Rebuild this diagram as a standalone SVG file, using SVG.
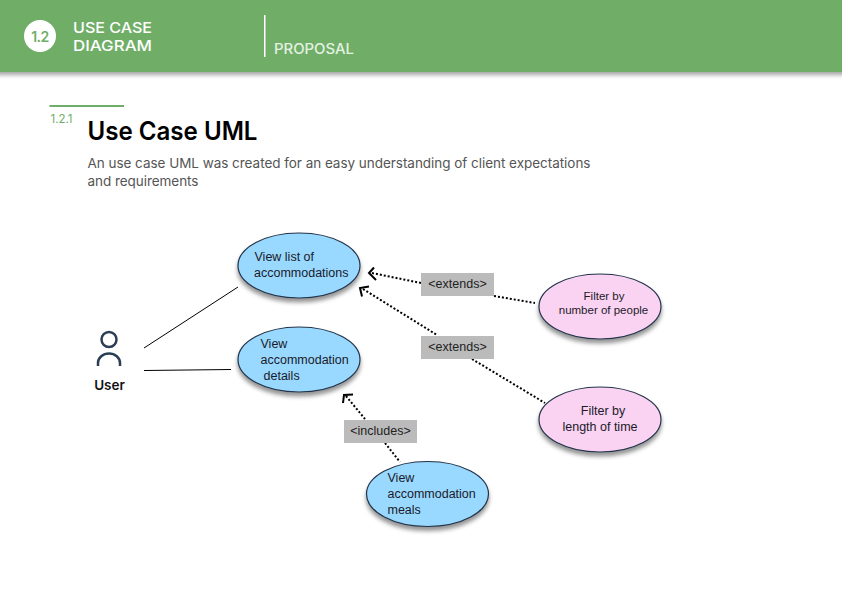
<svg xmlns="http://www.w3.org/2000/svg" width="842" height="596" viewBox="0 0 842 596">
<style>
.h{font-family:"Inter","Liberation Sans",sans-serif}
.d{font-family:"Liberation Sans",sans-serif;font-size:12.500px;fill:#1a1a2a}
.l{font-family:"Liberation Sans",sans-serif;font-size:12.500px;fill:#222}
.e{stroke:#23344a;stroke-width:1.2}
.blue{fill:#99d9ff}
.pink{fill:#fbd3f2}
.lab{fill:#bbbbbb}
.dot{fill:none;stroke:#000;stroke-width:2;stroke-dasharray:2 2}
.sol{fill:none;stroke:#000;stroke-width:1}
.head{fill:none;stroke:#000;stroke-width:2}
</style>
<defs>
<filter id="s" x="-20%" y="-20%" width="140%" height="150%"><feDropShadow dx="0" dy="4" stdDeviation="2" flood-color="#000" flood-opacity="0.42"/></filter>
<filter id="hs" x="-5%" y="-20%" width="110%" height="150%"><feDropShadow dx="0" dy="3" stdDeviation="2" flood-color="#000" flood-opacity="0.35"/></filter>
</defs>
<rect width="842" height="596" fill="#fff"/>
<g id="header">
<rect x="-6" y="-6" width="854" height="78" fill="#6fae68" filter="url(#hs)"/>
<circle cx="40" cy="36" r="16" fill="#fff"/>
<text x="40" y="41.500" text-anchor="middle" class="h" font-size="14" font-weight="600" fill="#6fae68" letter-spacing="-0.5">1.2</text>
<text class="h" font-size="14.800" font-weight="500" fill="#fff"><tspan x="73" y="33" textLength="79" lengthAdjust="spacingAndGlyphs">USE CASE</tspan><tspan x="73" y="51" textLength="79" lengthAdjust="spacingAndGlyphs">DIAGRAM</tspan></text>
<rect x="264" y="15" width="1.500" height="42" fill="#fff"/>
<text x="274" y="54" class="h" font-size="14" font-weight="500" fill="#e4f1e2" textLength="80" lengthAdjust="spacingAndGlyphs">PROPOSAL</text>
</g>
<g id="title">
<rect x="49.500" y="105" width="74.500" height="2" fill="#6fae68"/>
<text x="50.500" y="123" class="h" font-size="11.500" fill="#6fae68" textLength="22" lengthAdjust="spacingAndGlyphs">1.2.1</text>
<text x="87.500" y="139.500" class="h" font-size="25" font-weight="600" fill="#000" textLength="170" lengthAdjust="spacingAndGlyphs">Use Case UML</text>
<text class="h" font-size="13.500" fill="#555"><tspan x="87.500" y="168" textLength="503">An use case UML was created for an easy understanding of client expectations</tspan><tspan x="87.500" y="186" textLength="111">and requirements</tspan></text>
</g>
<g id="connectors">
<path class="sol" d="M144 348 L238 287"/>
<path class="sol" d="M144 370.500 L231 369.500"/>
<path class="dot" d="M372 273 L421 283"/>
<path class="dot" d="M494 296 L535 303"/>
<path class="head" d="M374 267.500 L369 273 L376 280"/>
<path class="dot" d="M363 289 L437 335"/>
<path class="dot" d="M472 359 L545 403"/>
<path class="head" d="M369 286.500 L360 288 L362 296.500"/>
<path class="dot" d="M346 396 L365 419"/>
<path class="dot" d="M385 443 L400 462"/>
<path class="head" d="M353 394.500 L344 395 L343 403"/>
</g>
<g id="uc-list">
<ellipse class="e blue" cx="299" cy="265.500" rx="61" ry="32.500" filter="url(#s)"/>
<text class="d"><tspan x="254.500" y="261">View list of</tspan><tspan x="254" y="277">accommodations</tspan></text>
</g>
<g id="uc-details">
<ellipse class="e blue" cx="299" cy="359.500" rx="61" ry="32.500" filter="url(#s)"/>
<text class="d"><tspan x="260.500" y="348">View</tspan><tspan x="260.500" y="364">accommodation</tspan><tspan x="263.500" y="380">details</tspan></text>
</g>
<g id="uc-meals">
<ellipse class="e blue" cx="427.500" cy="494" rx="61" ry="32.500" filter="url(#s)"/>
<text class="d"><tspan x="387.500" y="482">View</tspan><tspan x="387.500" y="498">accommodation</tspan><tspan x="387.500" y="514">meals</tspan></text>
</g>
<g id="uc-filter-people">
<ellipse class="e pink" cx="600" cy="306.500" rx="61" ry="32.500" filter="url(#s)"/>
<text class="d" text-anchor="middle"><tspan x="604" y="300" style="font-size:11.500px">Filter by</tspan><tspan x="603.500" y="314" style="font-size:11.500px">number of people</tspan></text>
</g>
<g id="uc-filter-time">
<ellipse class="e pink" cx="600" cy="419.500" rx="61" ry="32.500" filter="url(#s)"/>
<text class="d" text-anchor="middle"><tspan x="603" y="415">Filter by</tspan><tspan x="600" y="431">length of time</tspan></text>
</g>
<g id="label-extends-1"><rect class="lab" x="421" y="273" width="73" height="23"/><text x="457.500" y="288" text-anchor="middle" class="l">&lt;extends&gt;</text></g>
<g id="label-extends-2"><rect class="lab" x="421" y="336" width="73" height="23"/><text x="457.500" y="351" text-anchor="middle" class="l">&lt;extends&gt;</text></g>
<g id="label-includes"><rect class="lab" x="344" y="420" width="73" height="23"/><text x="380.500" y="435" text-anchor="middle" class="l">&lt;includes&gt;</text></g>
<g id="actor-user">
<circle cx="109" cy="339.500" r="7.500" fill="none" stroke="#2c3e55" stroke-width="2.500"/>
<path d="M98 366 V363 A11 9.500 0 0 1 120 363 V366" fill="none" stroke="#2c3e55" stroke-width="2.500"/>
<text x="109.500" y="390" text-anchor="middle" class="h" font-size="13.500" font-weight="600" fill="#111">User</text>
</g>
</svg>
